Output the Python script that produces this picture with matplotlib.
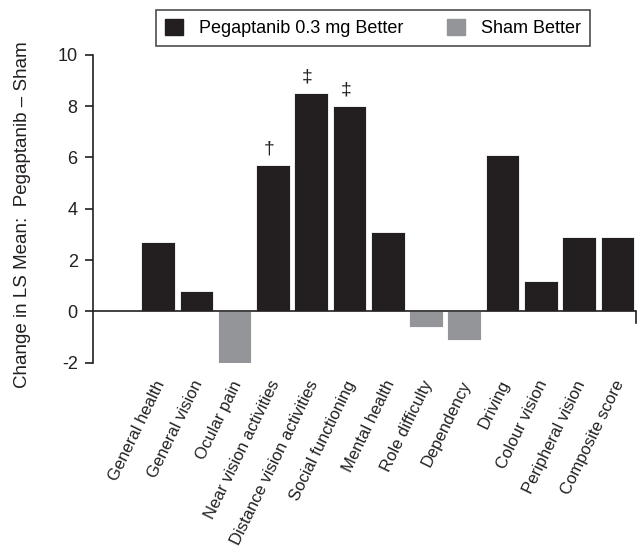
import matplotlib
matplotlib.use('Agg')
import matplotlib.pyplot as plt
import matplotlib.transforms as mtransforms
from matplotlib.patches import Patch

plt.rcParams['font.family'] = ['Liberation Sans', 'DejaVu Sans']

categories = ['General health', 'General vision', 'Ocular pain', 'Near vision activities',
              'Distance vision activities', 'Social functioning', 'Mental health',
              'Role difficulty', 'Dependency', 'Driving', 'Colour vision',
              'Peripheral vision', 'Composite score']
values = [2.7, 0.8, -2.0, 5.7, 8.5, 8.0, 3.1, -0.6, -1.1, 6.1, 1.2, 2.9, 2.9]
# significance marks above bars
marks = {3: '\u2020', 4: '\u2021', 5: '\u2021'}

dark = '#231f20'
grey = '#939598'

fig = plt.figure(figsize=(6.37, 5.48), dpi=100)
ax = fig.add_axes([0.146, 0.338, 0.852, 0.562])

x = list(range(len(categories)))
colors = [dark if v >= 0 else grey for v in values]
ax.bar(x, values, width=0.88, color=colors, edgecolor='white', linewidth=0.6, zorder=2)

for i, m in marks.items():
    ax.text(i - 0.1, values[i] + 0.3, m, ha='center', va='bottom', fontsize=14, color=dark)

ax.set_xlim(-1.7, 12.48)
ax.set_ylim(-2, 10)
ax.set_yticks([-2, 0, 2, 4, 6, 8, 10])
ax.set_yticklabels(['-2', '0', '2', '4', '6', '8', '10'])
ax.tick_params(axis='y', direction='out', length=6, width=1.2, labelsize=13, pad=5, colors=dark)

# zero line acting as x axis
ax.axhline(0, color=dark, lw=1.2, zorder=3)
ax.plot([12.48, 12.48], [0, -0.45], color=dark, lw=1.2, clip_on=False)

for s in ['top', 'right', 'bottom']:
    ax.spines[s].set_visible(False)
ax.spines['left'].set_linewidth(1.2)
ax.spines['left'].set_color(dark)

ax.set_xticks(x)
ax.set_xticklabels(categories, rotation=64, ha='right', va='top', rotation_mode='anchor',
                   fontsize=12, color=dark)
ax.tick_params(axis='x', length=0, pad=11)
shift = mtransforms.ScaledTranslation(-4 / 100, 0, fig.dpi_scale_trans)
for lab in ax.get_xticklabels():
    lab.set_transform(lab.get_transform() + shift)

ax.set_ylabel('Change in LS Mean:  Pegaptanib \u2013 Sham', fontsize=13.5, color=dark)
ax.yaxis.set_label_coords(-0.115, 0.48)

handles = [Patch(facecolor=dark, edgecolor=dark), Patch(facecolor=grey, edgecolor=grey)]
leg = ax.legend(handles, ['Pegaptanib 0.3 mg Better', 'Sham Better'], ncol=2,
                loc='lower center', bbox_to_anchor=(0.516, 1.029), borderaxespad=0,
                fontsize=13, frameon=True, fancybox=False, handlelength=1.0, handleheight=1.0,
                handletextpad=0.9, borderpad=0.5, columnspacing=2.4)
leg.get_frame().set_edgecolor(dark)
leg.get_frame().set_linewidth(1.2)

fig.savefig('out.png', dpi=100)
